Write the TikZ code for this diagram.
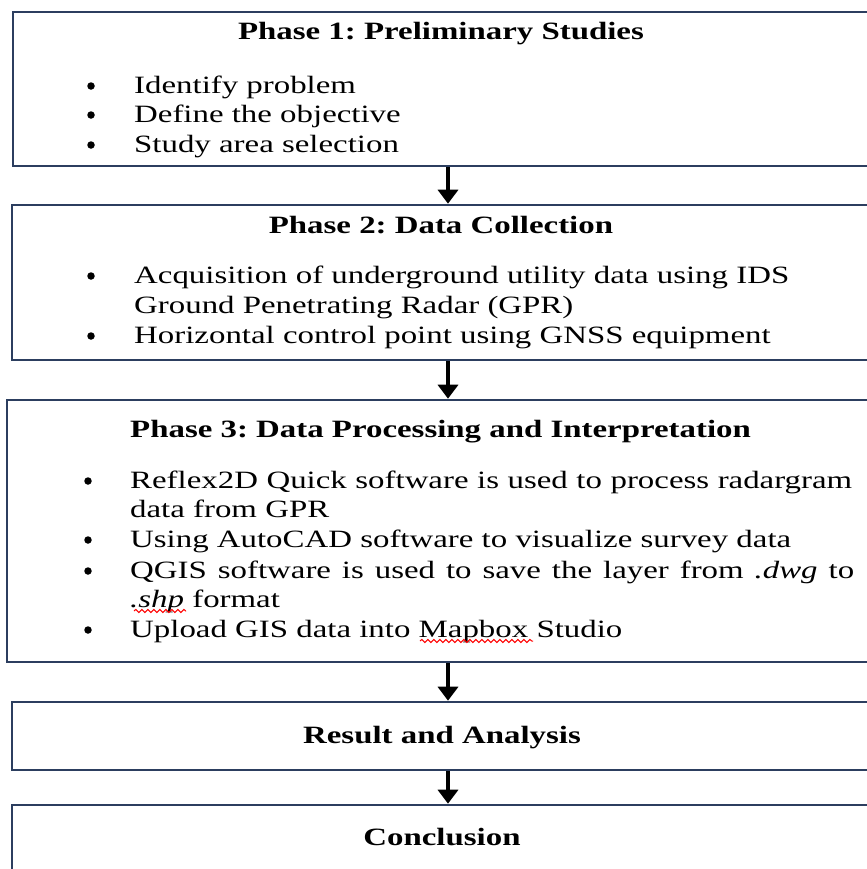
\documentclass[tikz,border=0pt]{standalone}
\usepackage{fontspec}
\setmainfont{Liberation Serif}[FakeStretch=1.32]
\usetikzlibrary{arrows.meta,decorations.pathmorphing}
\definecolor{boxc}{RGB}{44,62,95}
\newcommand{\bodyfont}{\frenchspacing\fontsize{25}{29.6}\selectfont}
\frenchspacing
\begin{document}
\begin{tikzpicture}[x=1bp,y=-1bp,
  box/.style={draw=boxc, line width=2.6bp, rectangle, inner sep=0pt},
  flow/.style={line width=3.8bp, -{Triangle[width=20bp,length=14bp]}},
  txt/.style={anchor=base west, inner sep=0pt, font=\bodyfont},
  ttl/.style={anchor=base, inner sep=0pt, font=\bodyfont\bfseries},
  dot/.style={circle, fill=black, inner sep=0pt, minimum size=7.5bp},
  squig/.style={draw=red, line width=1bp, decorate, decoration={snake, amplitude=1.6bp, segment length=6bp}}]
\useasboundingbox (0,0) rectangle (867,869);
\clip (0,0) rectangle (867,869);
\fill[white] (0,0) rectangle (867,869);
% boxes
\node[box, minimum width=887bp, minimum height=154bp] (b1) at (456.5,89) {};
\node[box, minimum width=888bp, minimum height=155bp] (b2) at (456,282.5) {};
\node[box, minimum width=893bp, minimum height=262bp] (b3) at (453.5,531) {};
\node[box, minimum width=888bp, minimum height=68bp] (b4) at (456,736) {};
\node[box, minimum width=888bp, minimum height=115bp] (b5) at (456,862.5) {};
% arrows
\coordinate (ax) at (448,0);
\draw[flow] (b1.south -| ax) -- (b2.north -| ax);
\draw[flow] (b2.south -| ax) -- (b3.north -| ax);
\draw[flow] (b3.south -| ax) -- (b4.north -| ax);
\draw[flow] (b4.south -| ax) -- (b5.north -| ax);
% phase 1
\node[ttl] (t1) at (441,39) {Phase 1: Preliminary Studies};
\node[dot] (d11) at (91,86) {};
\node[txt] (l11) at (134,93) {Identify problem};
\node[dot] (d12) at (91,115) {};
\node[txt] (l12) at (134,122) {Define the objective};
\node[dot] (d13) at (91,145) {};
\node[txt] (l13) at (134,152) {Study area selection};
% phase 2
\node[ttl] (t2) at (441,233) {Phase 2: Data Collection};
\node[dot] (d21) at (91,276) {};
\node[txt] (l21) at (134,283) {Acquisition of underground utility data using IDS};
\node[txt] (l22) at (134,313) {Ground Penetrating Radar (GPR)};
\node[dot] (d23) at (91,336) {};
\node[txt] (l23) at (134,343) {Horizontal control point using GNSS equipment};
% phase 3
\node[ttl, anchor=base west] (t3) at (130,437) {Phase 3: Data Processing and Interpretation};
\node[dot] (d31) at (88,481) {};
\node[txt] (l31) at (130,488) {\makebox[722bp][s]{Reflex2D Quick software is used to process radargram}};
\node[txt] (l32) at (130,517) {data from GPR};
\node[dot] (d33) at (88,540) {};
\node[txt] (l33) at (130,547) {Using AutoCAD software to visualize survey data};
\node[dot] (d34) at (88,571) {};
\node[txt] (l34) at (130,578) {\makebox[724bp][s]{QGIS software is used to save the layer from \textit{.dwg} to}};
\node[txt] (l35) at (130,607) {\textit{.shp} format};
\node[dot] (d36) at (88,630) {};
\node[txt] (l36) at (130,637) {Upload GIS data into Mapbox Studio};
\draw[squig] (134,611) -- (186,611);
\draw[squig] (420,641) -- (533,641);
% result, conclusion
\node[ttl] (t4) at (442,743) {Result and Analysis};
\node[ttl] (t5) at (442,845) {Conclusion};
\end{tikzpicture}
\end{document}
